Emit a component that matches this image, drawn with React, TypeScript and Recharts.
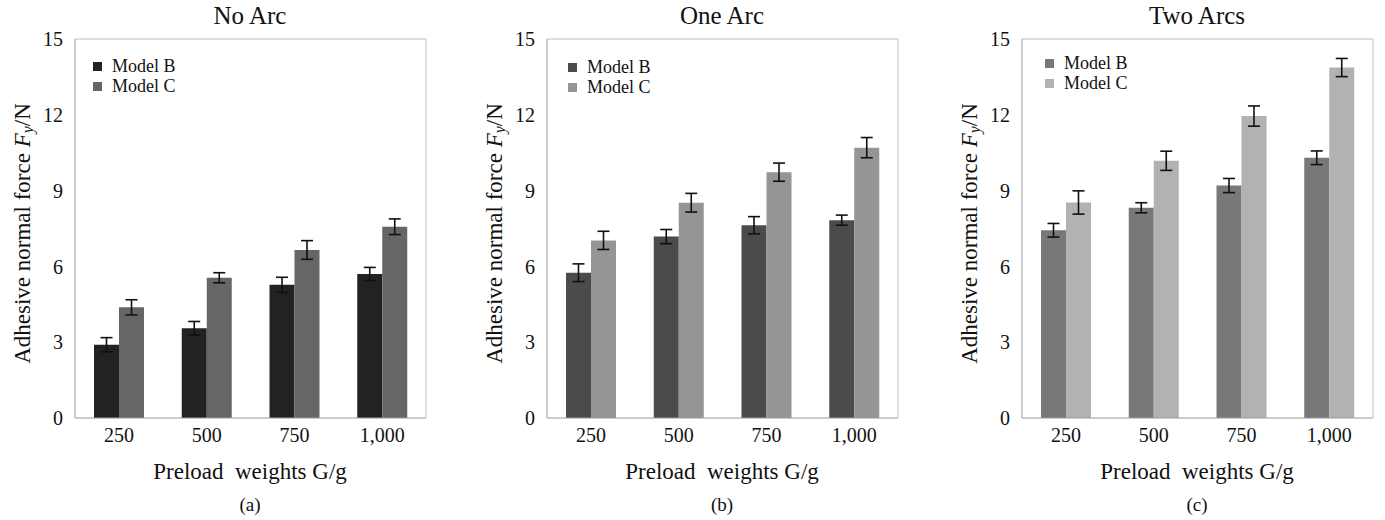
import React from 'react';
import { BarChart, Bar, XAxis, YAxis, ErrorBar } from 'recharts';

const weights = ['250', '500', '750', '1,000'];
const yTicks = [0, 3, 6, 9, 12, 15];
const seriesNames = ['Model B', 'Model C'];

// No Arc
const noArcB = [2.9, 3.55, 5.27, 5.7];
const noArcBErr = [0.28, 0.27, 0.3, 0.26];
const noArcC = [4.38, 5.55, 6.65, 7.57];
const noArcCErr = [0.3, 0.2, 0.37, 0.31];

// One Arc
const oneArcB = [5.75, 7.18, 7.63, 7.83];
const oneArcBErr = [0.35, 0.28, 0.34, 0.2];
const oneArcC = [7.03, 8.52, 9.73, 10.7];
const oneArcCErr = [0.36, 0.37, 0.36, 0.4];

// Two Arcs
const twoArcsB = [7.43, 8.32, 9.2, 10.3];
const twoArcsBErr = [0.27, 0.2, 0.28, 0.27];
const twoArcsC = [8.53, 10.18, 11.95, 13.87];
const twoArcsCErr = [0.46, 0.38, 0.4, 0.36];

const FONT = '"Liberation Serif", "Times New Roman", serif';
const PLOT_LEFT = 75;
const PLOT_W = 350;
const PLOT_TOP = 39;
const PLOT_BOTTOM = 418;
const CHART_H = 520;

interface PanelProps {
  left: number;
  title: string;
  caption: string;
  b: number[];
  bErr: number[];
  c: number[];
  cErr: number[];
  colorB: string;
  colorC: string;
  legendDx: number;
  legendTop: number;
}

const makeRows = (b: number[], bErr: number[], c: number[], cErr: number[]) =>
  weights.map((w, i) => ({ w, b: b[i], bErr: bErr[i], c: c[i], cErr: cErr[i] }));

const YLabel = (props: any) => {
  const vb = props.viewBox || { x: 0, y: 0, height: 0 };
  const cx = vb.x + 22;
  const cy = vb.y + vb.height / 2 + 5;
  return (
    <text
      x={cx}
      y={cy}
      transform={`rotate(-90, ${cx}, ${cy})`}
      textAnchor="middle"
      dominantBaseline="central"
      fontFamily={FONT}
      fontSize={23}
      fill="#111"
    >
      Adhesive normal force{' '}
      <tspan fontStyle="italic">F</tspan>
      <tspan fontStyle="italic" fontSize={16} dy={5}>y</tspan>
      <tspan dy={-5}>/N</tspan>
    </text>
  );
};

const Panel: React.FC<PanelProps> = (p) => {
  const data = makeRows(p.b, p.bErr, p.c, p.cErr);
  const chartW = PLOT_LEFT + PLOT_W + 10;
  const colors = [p.colorB, p.colorC];

  return (
    <div style={{ position: 'absolute', left: p.left, top: 0, width: chartW, height: CHART_H }}>
      <div
        style={{
          position: 'absolute', left: PLOT_LEFT, width: PLOT_W, top: 1, textAlign: 'center',
          fontFamily: FONT, fontSize: 25, lineHeight: '30px', color: '#111',
        }}
      >
        {p.title}
      </div>
      <BarChart
        width={chartW}
        height={CHART_H}
        data={data}
        margin={{ top: PLOT_TOP - 1, right: 9, bottom: CHART_H - PLOT_BOTTOM - 30, left: 0 }}
        barGap={0}
        barSize={25}
      >
        <XAxis
          dataKey="w"
          height={30}
          axisLine={{ stroke: '#9a9a9a' }}
          tickLine={false}
          tickMargin={4}
          tick={{ fontFamily: FONT, fontSize: 20, fill: '#111' }}
          interval={0}
        />
        <XAxis
          xAxisId="top"
          dataKey="w"
          orientation="top"
          height={1}
          tick={false}
          tickLine={false}
          axisLine={{ stroke: '#bdbdbd' }}
        />
        <YAxis
          width={PLOT_LEFT}
          domain={[0, 15]}
          ticks={yTicks}
          interval={0}
          axisLine={{ stroke: '#9a9a9a' }}
          tickLine={false}
          tickMargin={6}
          tick={{ fontFamily: FONT, fontSize: 20, fill: '#111' }}
          label={{ content: YLabel }}
        />
        <YAxis
          yAxisId="r"
          orientation="right"
          width={1}
          mirror
          domain={[0, 15]}
          ticks={yTicks}
          interval={0}
          tick={false}
          tickSize={4}
          tickLine={{ stroke: '#aaaaaa' }}
          axisLine={{ stroke: '#c4c4c4' }}
        />
        <Bar dataKey="b" name={seriesNames[0]} fill={p.colorB} isAnimationActive={false}>
          <ErrorBar dataKey="bErr" width={6} strokeWidth={1.6} stroke="#111" direction="y" />
        </Bar>
        <Bar dataKey="c" name={seriesNames[1]} fill={p.colorC} isAnimationActive={false}>
          <ErrorBar dataKey="cErr" width={6} strokeWidth={1.6} stroke="#111" direction="y" />
        </Bar>
      </BarChart>
      <div
        style={{
          position: 'absolute', left: PLOT_LEFT + p.legendDx, top: p.legendTop,
          fontFamily: FONT, fontSize: 18, color: '#111',
        }}
      >
        {seriesNames.map((n, i) => (
          <div key={n} style={{ height: 20, lineHeight: '20px', display: 'flex', alignItems: 'center' }}>
            <span style={{ display: 'inline-block', width: 9, height: 9, background: colors[i], marginRight: 10 }} />
            <span>{n}</span>
          </div>
        ))}
      </div>
      <div
        style={{
          position: 'absolute', left: PLOT_LEFT, width: PLOT_W, top: 457, textAlign: 'center',
          fontFamily: FONT, fontSize: 23, lineHeight: '30px', color: '#111', whiteSpace: 'pre',
        }}
      >
        {'Preload  weights G/g'}
      </div>
      <div
        style={{
          position: 'absolute', left: PLOT_LEFT, width: PLOT_W, top: 493, textAlign: 'center',
          fontFamily: FONT, fontSize: 19, lineHeight: '24px', color: '#111',
        }}
      >
        {p.caption}
      </div>
    </div>
  );
};

const App: React.FC = () => (
  <div style={{ position: 'absolute', left: 0, top: 0, width: 1385, height: 520, background: '#fff', overflow: 'hidden' }}>
    <Panel left={0} title="No Arc" caption="(a)" b={noArcB} bErr={noArcBErr} c={noArcC} cErr={noArcCErr}
      colorB="#222222" colorC="#666666" legendDx={18} legendTop={56} />
    <Panel left={472} title="One Arc" caption="(b)" b={oneArcB} bErr={oneArcBErr} c={oneArcC} cErr={oneArcCErr}
      colorB="#4b4b4b" colorC="#959595" legendDx={21} legendTop={57} />
    <Panel left={947} title="Two Arcs" caption="(c)" b={twoArcsB} bErr={twoArcsBErr} c={twoArcsC} cErr={twoArcsCErr}
      colorB="#787878" colorC="#b2b2b2" legendDx={23} legendTop={53} />
  </div>
);

export default App;
